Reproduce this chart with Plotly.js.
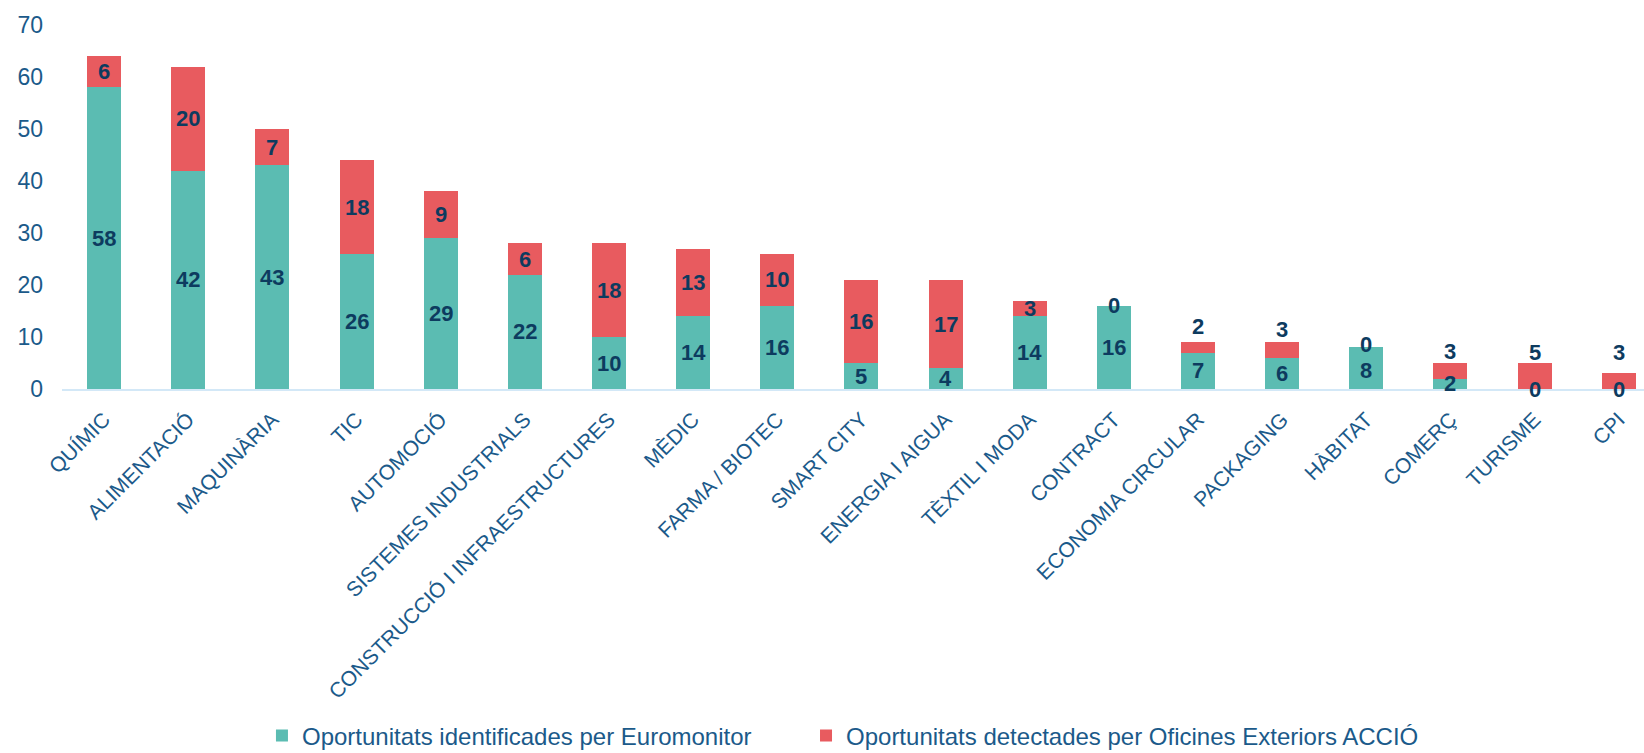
<!DOCTYPE html>
<html>
<head>
<meta charset="utf-8">
<script src="https://cdn.plot.ly/plotly-3.0.1.min.js"></script>
<style>html,body{margin:0;padding:0;background:#fff;}#chart{width:1644px;height:753px;}</style>
</head>
<body>
<div id="chart"></div>
<script>
const categories = ["QUÍMIC","ALIMENTACIÓ","MAQUINÀRIA","TIC","AUTOMOCIÓ","SISTEMES INDUSTRIALS","CONSTRUCCIÓ I INFRAESTRUCTURES","MÈDIC","FARMA / BIOTEC","SMART CITY","ENERGIA I AIGUA","TÈXTIL I MODA","CONTRACT","ECONOMIA CIRCULAR","PACKAGING","HÀBITAT","COMERÇ","TURISME","CPI"];
const euromonitor = [58,42,43,26,29,22,10,14,16,5,4,14,16,7,6,8,2,0,0];
const oficines = [6,20,7,18,9,6,18,13,10,16,17,3,0,2,3,0,3,5,3];
const seriesNames = ["Oportunitats identificades per Euromonitor","Oportunitats detectades per Oficines Exteriors ACCIÓ"];

// label pixel offsets (style only)
const tealShift = [0,0,0,0,0,0,0,0,0,0,0,0,0,0,0,-2,0,0,0];
const redShift = [0,0,0,0,0,0,0,0,0,0,0,0,0,21,21,3,19,24,29];

const teal = "#5BBCB2", red = "#E85B5F", labelColor = "#0D3B5F", tickColor = "#1B5A8A";
const fontFam = "Liberation Sans, Arial, sans-serif";
const idx = categories.map((c,i)=>i);

const traces = [
  {type:"bar", x: idx, y: euromonitor, name: seriesNames[0], marker:{color: teal, line:{width:0}}, width:0.404, hoverinfo:"y", legend:"legend"},
  {type:"bar", x: idx, y: oficines, name: seriesNames[1], marker:{color: red, line:{width:0}}, width:0.404, hoverinfo:"y", legend:"legend2"}
];

const annotations = [];
idx.forEach(i => {
  annotations.push({x:i, y: euromonitor[i]/2, xref:"x", yref:"y", text: String(euromonitor[i]), showarrow:false,
    yshift: tealShift[i], font:{family:fontFam, size:22, color:labelColor, weight:"bold"}});
  annotations.push({x:i, y: euromonitor[i] + oficines[i]/2, xref:"x", yref:"y", text: String(oficines[i]), showarrow:false,
    yshift: redShift[i], font:{family:fontFam, size:22, color:labelColor, weight:"bold"}});
});

const legendBase = {orientation:"h", xanchor:"left", y:-0.953, yanchor:"middle", font:{size:24, color: tickColor}, itemwidth:30, bgcolor:"rgba(0,0,0,0)"};

const layout = {
  width:1644, height:753,
  barmode:"stack",
  margin:{l:62, r:0, t:25, b:364, autoexpand:false},
  paper_bgcolor:"#fff", plot_bgcolor:"#fff",
  font:{family:fontFam, color: tickColor},
  xaxis:{
    range:[-0.5, 18.3], tickmode:"array", tickvals: idx, ticktext: categories,
    tickangle:-45, tickfont:{size:21, color: tickColor}, ticklabelstandoff:8,
    showline:true, linecolor:"#D3E8F7", linewidth:2, showgrid:false, zeroline:false, ticks:"", fixedrange:true
  },
  yaxis:{
    range:[0,70], dtick:10, tickfont:{size:23, color: tickColor}, showgrid:false, zeroline:false,
    showline:false, ticks:"", ticklabelstandoff:18, fixedrange:true
  },
  showlegend:true,
  legend: Object.assign({}, legendBase, {x:0.1264}),
  legend2: Object.assign({}, legendBase, {x:0.4703}),
  annotations: annotations
};

Plotly.newPlot("chart", traces, layout, {displayModeBar:false, staticPlot:true});
</script>
</body>
</html>
